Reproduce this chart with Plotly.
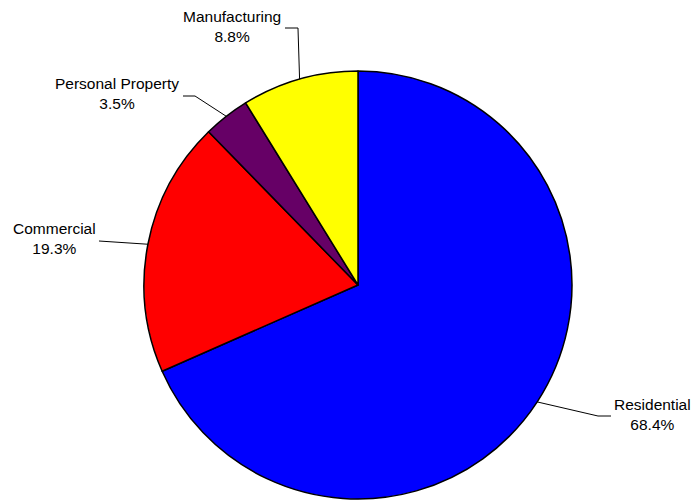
import math
import plotly.graph_objects as go

# Property tax base by class (share of total, %)
categories = ["Residential", "Commercial", "Personal Property", "Manufacturing"]
shares = [68.4, 19.3, 3.5, 8.8]
colors = ["#0000FF", "#FF0000", "#660066", "#FFFF00"]

W, H = 694, 501
CX, CY, R = 358, 285, 214  # pie centre and radius in pixels

# Label placement (pixels): text centre, optional elbow, end of leader line
label_pos = {
    "Residential": dict(text=(652, 414), elbow=(598, 416), end=(611, 416)),
    "Commercial": dict(text=(54, 239), elbow=None, end=(99, 241)),
    "Personal Property": dict(text=(117, 94), elbow=(195, 96), end=(183, 96)),
    "Manufacturing": dict(text=(232, 27), elbow=(298, 28), end=(285, 28)),
}


def px(x, y):
    return x / W, 1 - y / H


fig = go.Figure(
    go.Pie(
        labels=categories,
        values=shares,
        sort=False,
        direction="clockwise",
        rotation=0,
        textinfo="none",
        hoverinfo="label+percent",
        marker=dict(colors=colors, line=dict(color="black", width=1.5)),
        domain=dict(
            x=[(CX - R) / W, (CX + R) / W],
            y=[(H - CY - R) / H, (H - CY + R) / H],
        ),
        showlegend=False,
    )
)

total = sum(shares)
cum = 0.0
shapes, annotations = [], []
for name, val in zip(categories, shares):
    mid = (cum + val / 2) / total * 2 * math.pi
    cum += val
    ax_, ay_ = CX + R * math.sin(mid), CY - R * math.cos(mid)
    pos = label_pos[name]
    pts = [(ax_, ay_)]
    if pos["elbow"]:
        pts.append(pos["elbow"])
    pts.append(pos["end"])
    path = "M " + " L ".join("{:.5f},{:.5f}".format(*px(*p)) for p in pts)
    shapes.append(dict(type="path", path=path, xref="paper", yref="paper",
                       line=dict(color="black", width=1)))
    tx, ty = px(*pos["text"])
    annotations.append(dict(
        x=tx, y=ty, xref="paper", yref="paper", showarrow=False,
        xanchor="center", yanchor="middle", align="center",
        text=f"{name}<br>{val:.1f}%",
        font=dict(family="Liberation Sans, Arial, sans-serif", size=15.5, color="black"),
    ))

fig.update_layout(
    width=W, height=H,
    margin=dict(l=0, r=0, t=0, b=0),
    paper_bgcolor="white", plot_bgcolor="white",
    shapes=shapes, annotations=annotations,
)

fig.write_html("out.html")
